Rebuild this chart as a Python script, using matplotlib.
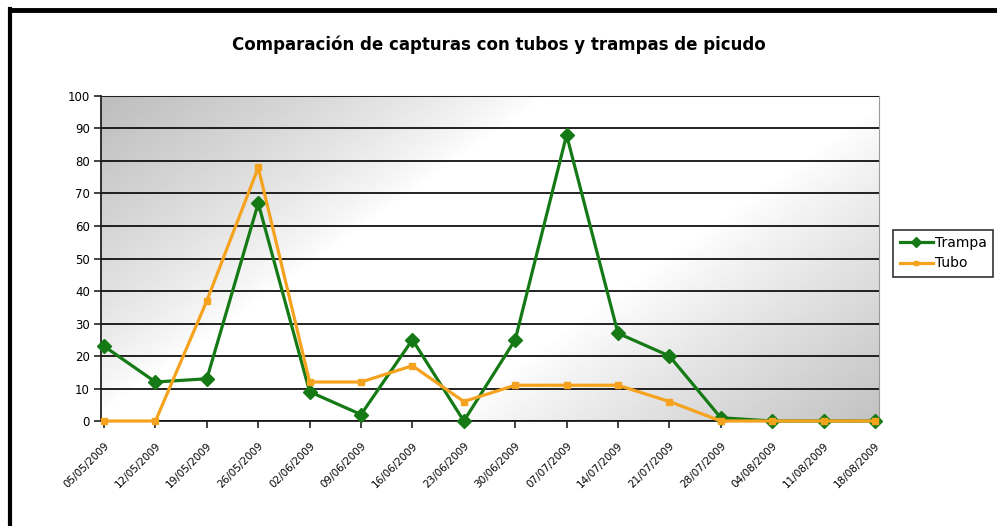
import numpy as np
import matplotlib
matplotlib.use('Agg')
import matplotlib.pyplot as plt
from matplotlib.lines import Line2D

fechas = ['05/05/2009', '12/05/2009', '19/05/2009', '26/05/2009', '02/06/2009',
          '09/06/2009', '16/06/2009', '23/06/2009', '30/06/2009', '07/07/2009',
          '14/07/2009', '21/07/2009', '28/07/2009', '04/08/2009', '11/08/2009',
          '18/08/2009']
trampa = [23, 12, 13, 67, 9, 2, 25, 0, 25, 88, 27, 20, 1, 0, 0, 0]
tubo = [0, 0, 37, 78, 12, 12, 17, 6, 11, 11, 11, 6, 0, 0, 0, 0]

verde = '#157a15'
naranja = '#f5a31e'

fig = plt.figure(figsize=(9.97, 5.26), dpi=100, facecolor='white')
ax = fig.add_axes([0.1013, 0.1996, 0.7804, 0.6179])

# fondo degradado diagonal (gris arriba-izq, blanco al centro, gris abajo-der)
w, h = 778, 325
xx, yy = np.meshgrid(np.arange(w), np.arange(h))
d = (xx + 1.4 * yy) / float(w + 1.4 * h)
nivel = 1 - 0.26 * np.clip((0.36 - d) / 0.36, 0, 1) ** 0.8 - 0.24 * np.clip((d - 0.64) / 0.36, 0, 1) ** 0.9
ax.imshow(nivel, cmap='gray', vmin=0, vmax=1, extent=[0, 1, 0, 1], transform=ax.transAxes,
          aspect='auto', zorder=0, interpolation='bilinear')

x = np.arange(len(fechas))
ax.plot(x, trampa, color=verde, lw=2.3, marker='D', ms=7, zorder=3, clip_on=False)
ax.plot(x, tubo, color=naranja, lw=2.3, marker='s', ms=4.5, zorder=4, clip_on=False)

ax.set_ylim(0, 100)
ax.set_xlim(-0.06, 15.08)
ax.set_yticks(range(0, 101, 10))
ax.yaxis.grid(True, color='#111111', lw=1.3, zorder=1)
ax.set_axisbelow(False)
for gl in ax.get_ygridlines():
    gl.set_zorder(1)

ax.set_xticks(x)
ax.set_xticklabels(fechas, rotation=45, ha='right', va='top', rotation_mode='anchor',
                   fontsize=7.5, family='DejaVu Sans')
ax.tick_params(axis='y', labelsize=8.5, length=5, width=1.2, color='#222222', pad=3)
ax.tick_params(axis='x', length=5, width=1.2, color='#222222', pad=9)

ax.spines['left'].set_color('#222222')
ax.spines['left'].set_linewidth(1.3)
ax.spines['bottom'].set_color('#222222')
ax.spines['bottom'].set_linewidth(1.3)
ax.spines['top'].set_color('#9a9a9a')
ax.spines['right'].set_color('#9a9a9a')

fig.text(0.5, 0.915, 'Comparación de capturas con tubos y trampas de picudo',
         ha='center', va='center', fontsize=12, fontweight='bold')

handles = [Line2D([], [], color=verde, lw=2.3, marker='D', ms=5),
           Line2D([], [], color=naranja, lw=2.3, marker='s', ms=3.5)]
leg = fig.legend(handles, ['Trampa', 'Tubo'], loc='upper left', bbox_to_anchor=(0.896, 0.563),
                 fontsize=10, frameon=True, fancybox=False, handlelength=2.4,
                 handletextpad=0.15, borderpad=0.45, labelspacing=0.45, borderaxespad=0)
leg.get_frame().set_edgecolor('black')
leg.get_frame().set_linewidth(1.2)

# marco negro del grafico (izquierda y arriba)
fig.add_artist(Line2D([0.0105, 0.0105], [0, 0.983], color='black', lw=3, transform=fig.transFigure))
fig.add_artist(Line2D([0.0105, 1], [0.981, 0.981], color='black', lw=3.5, transform=fig.transFigure))

fig.savefig('out.png', dpi=100)
